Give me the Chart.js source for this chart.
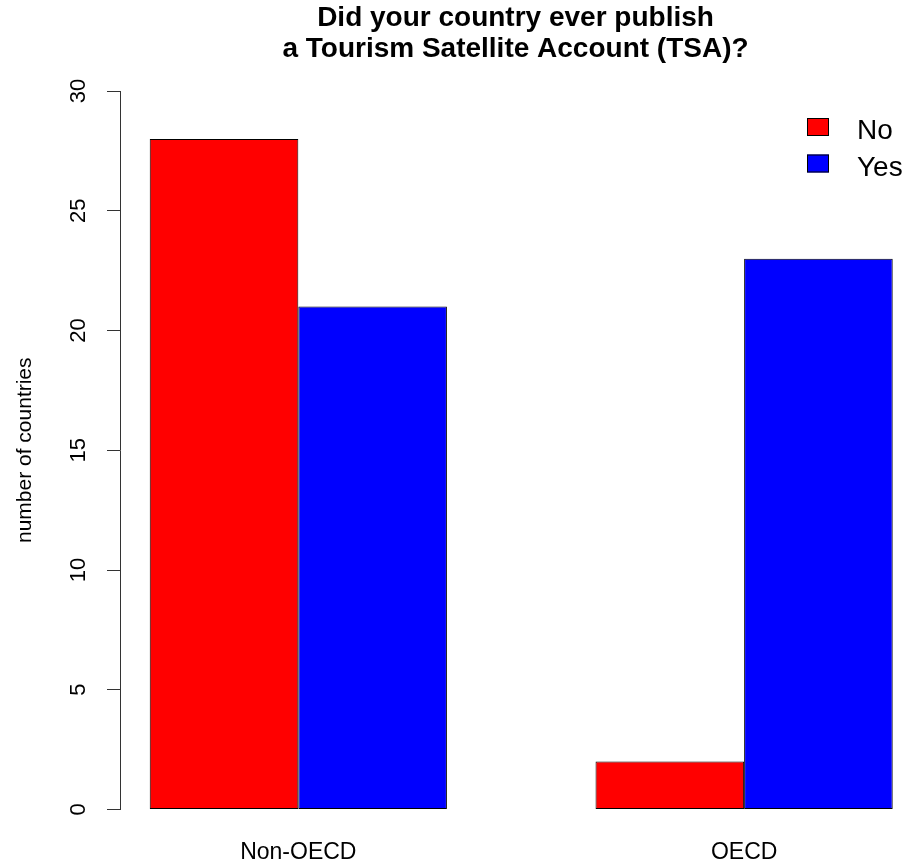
<!DOCTYPE html>
<html>
<head>
<meta charset="utf-8">
<script src="https://cdn.jsdelivr.net/npm/chart.js@4/dist/chart.umd.min.js"></script>
<style>
  body { margin: 0; background: #fff; }
  canvas { display: block; }
</style>
</head>
<body>
<canvas id="tsaChart" width="911" height="864"></canvas>
<script>
const categories = ['Non-OECD', 'OECD'];
const seriesNames = ['No', 'Yes'];
const noValues = [28, 2];
const yesValues = [21, 23];
const yTicks = [0, 5, 10, 15, 20, 25, 30];
const barColors = ['#ff0000', '#0000ff'];

const FONT = "'Liberation Sans', Arial, sans-serif";
Chart.defaults.color = '#000';
Chart.defaults.font.family = FONT;

// group centres on the R-style x axis (bars of width 1, one bar gap between groups)
const groupPos = i => 2 + 3 * i;

const toPoints = vals => vals.map((v, i) => ({ x: groupPos(i), y: v }));

// R style legend inside the plot, top right, no frame
const rLegend = {
  id: 'rLegend',
  afterDraw(chart) {
    const ctx = chart.ctx;
    ctx.save();
    ctx.font = '28px ' + FONT;
    ctx.textBaseline = 'alphabetic';
    ctx.textAlign = 'left';
    chart.data.datasets.forEach((ds, i) => {
      const by = 118 + i * 36.5;
      ctx.fillStyle = ds.backgroundColor;
      ctx.fillRect(807, by, 22, 18);
      ctx.strokeStyle = '#000';
      ctx.lineWidth = 1;
      ctx.strokeRect(807.5, by + 0.5, 21, 17);
      ctx.fillStyle = '#000';
      ctx.fillText(ds.label, 857, by + 21);
    });
    ctx.restore();
  }
};

const ctx = document.getElementById('tsaChart').getContext('2d');

const tsaChart = new Chart(ctx, {
  type: 'bar',
  data: {
    datasets: [{
      label: seriesNames[0],
      data: toPoints(noValues),
      backgroundColor: barColors[0],
      borderColor: '#000',
      borderWidth: 1,
      borderSkipped: false
    }, {
      label: seriesNames[1],
      data: toPoints(yesValues),
      backgroundColor: barColors[1],
      borderColor: '#000',
      borderWidth: 1,
      borderSkipped: false
    }]
  },
  options: {
    responsive: false,
    animation: false,
    categoryPercentage: 2 / 3,
    barPercentage: 1,
    layout: { padding: 0 },
    plugins: {
      legend: { display: false },
      tooltip: { enabled: false },
      title: {
        display: true,
        fullSize: false,
        text: ['Did your country ever publish', 'a Tourism Satellite Account (TSA)?'],
        color: '#000',
        font: { size: 28, weight: 'bold', lineHeight: 31 / 28 },
        padding: { top: 3, bottom: 26 }
      }
    },
    scales: {
      x: {
        type: 'linear',
        offset: false,
        min: 0.8,
        max: 0.8 + 791 / 148.6,
        bounds: 'data',
        grid: { display: false, drawTicks: false, offset: false },
        border: { display: false },
        afterBuildTicks: scale => {
          scale.ticks = categories.map((c, i) => ({ value: groupPos(i) }));
        },
        afterFit: scale => { scale.height = 54.5; },
        ticks: {
          padding: 29,
          font: { size: 23 },
          color: '#000',
          callback: (value, index) => categories[index]
        }
      },
      y: {
        min: 0,
        max: 30,
        afterBuildTicks: scale => {
          scale.ticks = yTicks.map(v => ({ value: v }));
        },
        afterFit: scale => { scale.width = 120; },
        grid: {
          drawOnChartArea: false,
          drawTicks: true,
          tickLength: 13,
          color: '#333'
        },
        border: { display: true, color: '#333', width: 1 },
        ticks: {
          minRotation: 90,
          maxRotation: 90,
          crossAlign: 'center',
          padding: 15.75,
          font: { size: 22 },
          color: '#000'
        },
        title: {
          display: true,
          text: 'number of countries',
          font: { size: 21 },
          color: '#000',
          padding: { top: 13, bottom: 0 }
        }
      }
    }
  },
  plugins: [rLegend]
});
</script>
</body>
</html>
